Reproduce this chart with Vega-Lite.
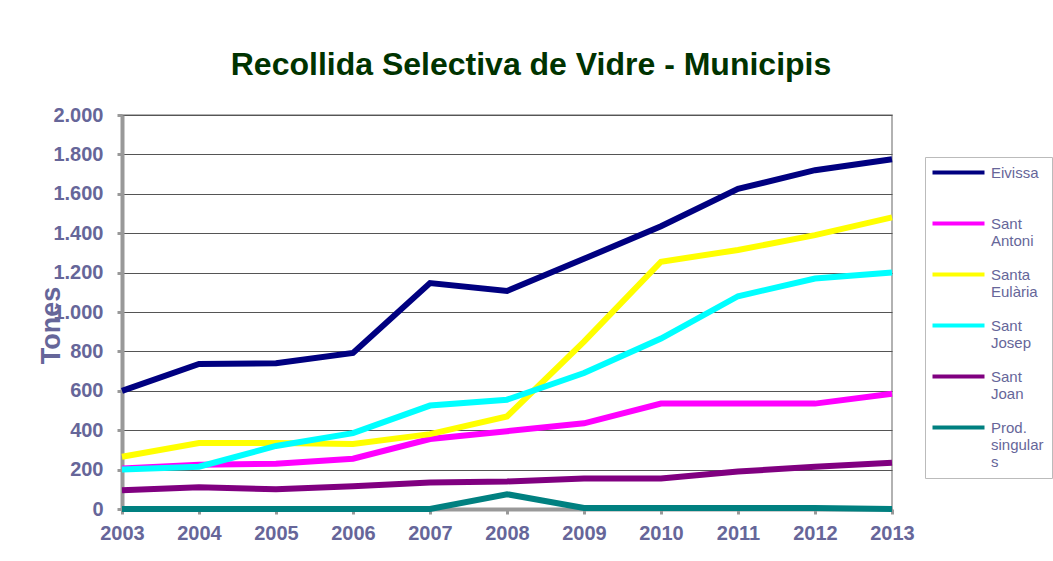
{
  "$schema": "https://vega.github.io/schema/vega-lite/v6.json",
  "width": 770,
  "height": 394,
  "autosize": {"type": "none"},
  "padding": {"left": 122, "top": 115, "right": 161, "bottom": 52},
  "background": "white",
  "title": {
    "text": "Recollida Selectiva de Vidre - Municipis",
    "font": "Liberation Sans",
    "fontSize": 32,
    "fontWeight": "bold",
    "color": "#003300",
    "anchor": "middle",
    "frame": "group",
    "dx": 24,
    "offset": 23
  },
  "config": {
    "view": {"stroke": "#999999", "strokeWidth": 1.5},
    "axis": {
      "labelFont": "Liberation Sans",
      "labelFontSize": 20,
      "labelFontWeight": "bold",
      "labelColor": "#666699",
      "titleFont": "Liberation Sans",
      "titleColor": "#666699",
      "domainColor": "#999999",
      "domainWidth": 4,
      "tickColor": "#999999",
      "tickWidth": 3,
      "tickSize": 5
    },
    "legend": {
      "labelFont": "Liberation Sans",
      "labelFontSize": 15,
      "labelColor": "#666699"
    }
  },
  "data": {
    "values": [
      {"year": 2003, "municipi": "Eivissa", "tones": 600},
      {"year": 2004, "municipi": "Eivissa", "tones": 736},
      {"year": 2005, "municipi": "Eivissa", "tones": 740},
      {"year": 2006, "municipi": "Eivissa", "tones": 792},
      {"year": 2007, "municipi": "Eivissa", "tones": 1147},
      {"year": 2008, "municipi": "Eivissa", "tones": 1107},
      {"year": 2009, "municipi": "Eivissa", "tones": 1270},
      {"year": 2010, "municipi": "Eivissa", "tones": 1435},
      {"year": 2011, "municipi": "Eivissa", "tones": 1625},
      {"year": 2012, "municipi": "Eivissa", "tones": 1720},
      {"year": 2013, "municipi": "Eivissa", "tones": 1775},
      {"year": 2003, "municipi": "Sant Antoni", "tones": 205},
      {"year": 2004, "municipi": "Sant Antoni", "tones": 225},
      {"year": 2005, "municipi": "Sant Antoni", "tones": 230},
      {"year": 2006, "municipi": "Sant Antoni", "tones": 255},
      {"year": 2007, "municipi": "Sant Antoni", "tones": 355},
      {"year": 2008, "municipi": "Sant Antoni", "tones": 395},
      {"year": 2009, "municipi": "Sant Antoni", "tones": 435},
      {"year": 2010, "municipi": "Sant Antoni", "tones": 535},
      {"year": 2011, "municipi": "Sant Antoni", "tones": 535},
      {"year": 2012, "municipi": "Sant Antoni", "tones": 535},
      {"year": 2013, "municipi": "Sant Antoni", "tones": 585},
      {"year": 2003, "municipi": "Santa Eulària", "tones": 265},
      {"year": 2004, "municipi": "Santa Eulària", "tones": 335},
      {"year": 2005, "municipi": "Santa Eulària", "tones": 335},
      {"year": 2006, "municipi": "Santa Eulària", "tones": 330},
      {"year": 2007, "municipi": "Santa Eulària", "tones": 380},
      {"year": 2008, "municipi": "Santa Eulària", "tones": 470},
      {"year": 2009, "municipi": "Santa Eulària", "tones": 850},
      {"year": 2010, "municipi": "Santa Eulària", "tones": 1255},
      {"year": 2011, "municipi": "Santa Eulària", "tones": 1315},
      {"year": 2012, "municipi": "Santa Eulària", "tones": 1390},
      {"year": 2013, "municipi": "Santa Eulària", "tones": 1480},
      {"year": 2003, "municipi": "Sant Josep", "tones": 200},
      {"year": 2004, "municipi": "Sant Josep", "tones": 215},
      {"year": 2005, "municipi": "Sant Josep", "tones": 320},
      {"year": 2006, "municipi": "Sant Josep", "tones": 385},
      {"year": 2007, "municipi": "Sant Josep", "tones": 525},
      {"year": 2008, "municipi": "Sant Josep", "tones": 555},
      {"year": 2009, "municipi": "Sant Josep", "tones": 690},
      {"year": 2010, "municipi": "Sant Josep", "tones": 865},
      {"year": 2011, "municipi": "Sant Josep", "tones": 1080},
      {"year": 2012, "municipi": "Sant Josep", "tones": 1170},
      {"year": 2013, "municipi": "Sant Josep", "tones": 1200},
      {"year": 2003, "municipi": "Sant Joan", "tones": 95},
      {"year": 2004, "municipi": "Sant Joan", "tones": 110},
      {"year": 2005, "municipi": "Sant Joan", "tones": 100},
      {"year": 2006, "municipi": "Sant Joan", "tones": 115},
      {"year": 2007, "municipi": "Sant Joan", "tones": 135},
      {"year": 2008, "municipi": "Sant Joan", "tones": 140},
      {"year": 2009, "municipi": "Sant Joan", "tones": 155},
      {"year": 2010, "municipi": "Sant Joan", "tones": 155},
      {"year": 2011, "municipi": "Sant Joan", "tones": 190},
      {"year": 2012, "municipi": "Sant Joan", "tones": 215},
      {"year": 2013, "municipi": "Sant Joan", "tones": 235},
      {"year": 2003, "municipi": "Prod. singulars", "tones": 0},
      {"year": 2004, "municipi": "Prod. singulars", "tones": 0},
      {"year": 2005, "municipi": "Prod. singulars", "tones": 0},
      {"year": 2006, "municipi": "Prod. singulars", "tones": 0},
      {"year": 2007, "municipi": "Prod. singulars", "tones": 0},
      {"year": 2008, "municipi": "Prod. singulars", "tones": 75},
      {"year": 2009, "municipi": "Prod. singulars", "tones": 5},
      {"year": 2010, "municipi": "Prod. singulars", "tones": 5},
      {"year": 2011, "municipi": "Prod. singulars", "tones": 5},
      {"year": 2012, "municipi": "Prod. singulars", "tones": 5},
      {"year": 2013, "municipi": "Prod. singulars", "tones": 0}
    ]
  },
  "mark": {"type": "line", "strokeWidth": 6, "strokeJoin": "miter", "clip": false},
  "encoding": {
    "x": {
      "field": "year",
      "type": "quantitative",
      "scale": {"domain": [2003, 2013], "nice": false, "zero": false},
      "axis": {
        "title": null,
        "format": "d",
        "values": [2003, 2004, 2005, 2006, 2007, 2008, 2009, 2010, 2011, 2012, 2013],
        "grid": false,
        "labelPadding": 9,
        "labelFlush": false
      }
    },
    "y": {
      "field": "tones",
      "type": "quantitative",
      "scale": {"domain": [0, 2000], "nice": false},
      "axis": {
        "title": "Tones",
        "titleFontSize": 27,
        "titleFontWeight": "bold",
        "titleX": -63,
        "titleY": 210,
        "titleAngle": -90,
        "titleAlign": "center",
        "titleBaseline": "alphabetic",
        "values": [0, 200, 400, 600, 800, 1000, 1200, 1400, 1600, 1800, 2000],
        "labelExpr": "replace(format(datum.value, ','), ',', '.')",
        "labelPadding": 14,
        "grid": true,
        "gridColor": "#555555",
        "gridWidth": 1,
        "gridOpacity": 1
      }
    },
    "color": {
      "field": "municipi",
      "type": "nominal",
      "scale": {
        "domain": ["Eivissa", "Sant Antoni", "Santa Eulària", "Sant Josep", "Sant Joan", "Prod. singulars"],
        "range": ["#000080", "#FF00FF", "#FFFF00", "#00FFFF", "#800080", "#008080"]
      },
      "legend": {
        "title": null,
        "orient": "none",
        "legendX": 803,
        "legendY": 42,
        "symbolType": "M-5.2,0H5.2",
        "symbolSize": 100,
        "symbolStrokeWidth": 4,
        "symbolOffset": 18,
        "labelOffset": 25,
        "rowPadding": 17,
        "padding": 8,
        "strokeColor": "#bbbbbb",
        "labelExpr": "datum.label == 'Eivissa' ? ['Eivissa', ' '] : datum.label == 'Prod. singulars' ? ['Prod.', 'singular', 's'] : split(datum.label, ' ')"
      }
    }
  }
}
